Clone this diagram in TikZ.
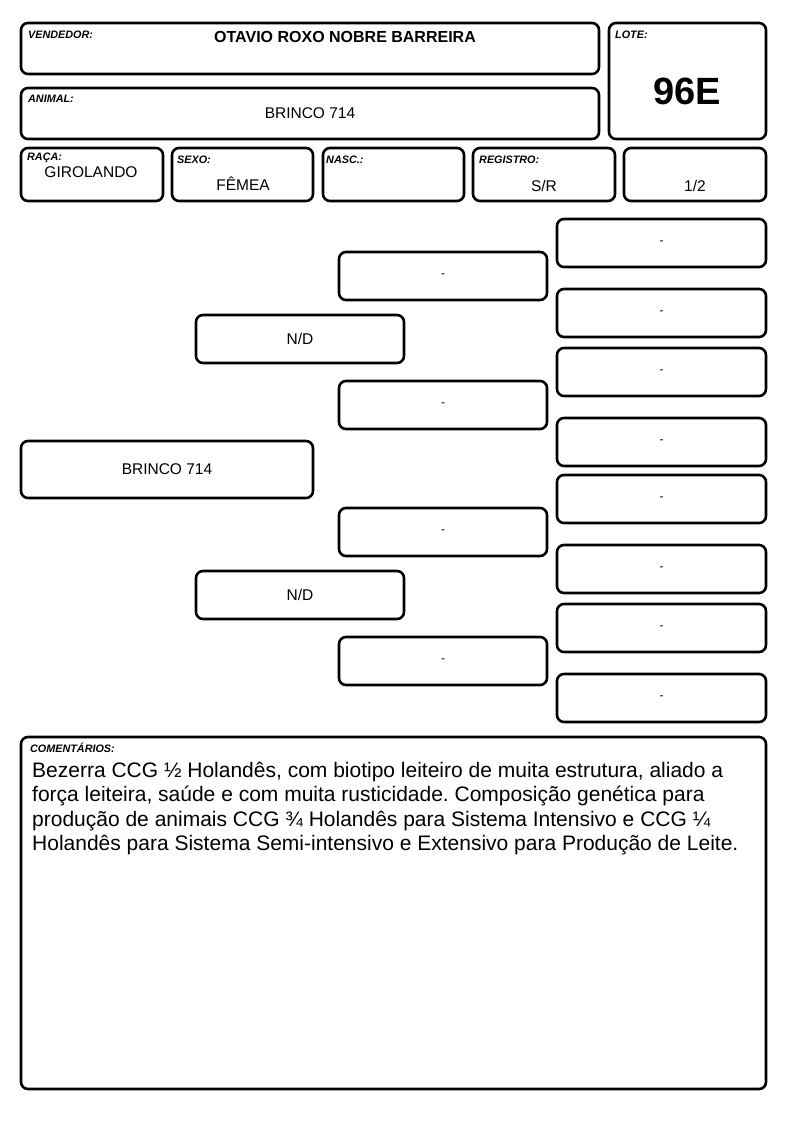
\documentclass[tikz,border=0pt]{standalone}
\usepackage{fontspec}
\setmainfont{Liberation Sans}
\usetikzlibrary{fit}
\frenchspacing
\tikzset{
  box/.style={draw, line width=2.6pt, rounded corners=7pt, inner sep=0pt},
  lbl/.style={anchor=west, inner sep=0pt, font=\fontsize{10.8}{12}\selectfont\bfseries\itshape},
  val/.style={inner sep=0pt, font=\fontsize{15.5}{18}\selectfont},
  dashtxt/.style={inner sep=0pt, font=\fontsize{12}{14}\selectfont},
}
\newcommand{\bx}[5]{\node[box, fit={(#2,#3) (#4,#5)}] (#1) {};}
\begin{document}
\begin{tikzpicture}[x=1pt,y=-1pt]
\useasboundingbox (0,0) rectangle (794,1123);
% header boxes
\bx{vend}{21}{23}{599}{74}
\bx{anim}{21}{88}{599}{139}
\bx{lote}{609}{23}{766}{139}
\bx{raca}{21}{148}{163}{201}
\bx{sexo}{172}{148}{313}{201}
\bx{nasc}{323}{148}{464}{201}
\bx{reg}{473}{148}{615}{201}
\bx{frac}{624}{148}{766}{201}
% labels
\node[lbl] (lvend) at (28,35) {VENDEDOR:};
\node[lbl] (lanim) at (28,99) {ANIMAL:};
\node[lbl] (llote) at (615,35) {LOTE:};
\node[lbl] (lraca) at (27,158) {RAÇA:};
\node[lbl] (lsexo) at (177,160) {SEXO:};
\node[lbl] (lnasc) at (326,160) {NASC.:};
\node[lbl] (lreg) at (479,160) {REGISTRO:};
% values
\node[val, font=\fontsize{16}{18}\selectfont\bfseries] (vvend) at (345,37) {OTAVIO ROXO NOBRE BARREIRA};
\node[val] (vanim) at (310,113) {BRINCO 714};
\node[val, font=\fontsize{38}{40}\selectfont\bfseries] (vlote) at (687,91) {96E};
\node[val] (vraca) at (91,172) {GIROLANDO};
\node[val] (vsexo) at (243,184) {FÊMEA};
\node[val] (vreg) at (544,186) {S/R};
\node[val] (vfrac) at (695,186) {1/2};
% pedigree
\bx{p0}{21}{441}{313}{498}
\node[val] (tp0) at (p0.center) {BRINCO 714};
\bx{s1}{196}{315}{404}{363}
\node[val] (ts1) at (s1.center) {N/D};
\bx{d1}{196}{571}{404}{619}
\node[val] (td1) at (d1.center) {N/D};
\bx{m1}{339}{252}{547}{300}
\bx{m2}{339}{381}{547}{429}
\bx{m3}{339}{508}{547}{556}
\bx{m4}{339}{637}{547}{685}
\foreach \n in {m1,m2,m3,m4} {\node[dashtxt] (t\n) at (\n.center) {-};}
\bx{r1}{557}{219}{766}{267}
\bx{r2}{557}{289}{766}{337}
\bx{r3}{557}{348}{766}{396}
\bx{r4}{557}{418}{766}{466}
\bx{r5}{557}{475}{766}{523}
\bx{r6}{557}{545}{766}{593}
\bx{r7}{557}{604}{766}{652}
\bx{r8}{557}{674}{766}{722}
\foreach \n in {r1,r2,r3,r4,r5,r6,r7,r8} {\node[dashtxt] (t\n) at (\n.center) {-};}
% comments
\bx{com}{21}{737}{766}{1089}
\node[lbl] (lcom) at (30,748) {COMENTÁRIOS:};
\node[anchor=north west, inner sep=0pt, align=left, font=\fontsize{21}{24.5}\selectfont] (tcom) at (32,762)
{Bezerra CCG ½ Holandês, com biotipo leiteiro de muita estrutura, aliado a\\
força leiteira, saúde e com muita rusticidade. Composição genética para\\
produção de animais CCG ¾ Holandês para Sistema Intensivo e CCG ¼\\
Holandês para Sistema Semi-intensivo e Extensivo para Produção de Leite.};
\end{tikzpicture}
\end{document}
